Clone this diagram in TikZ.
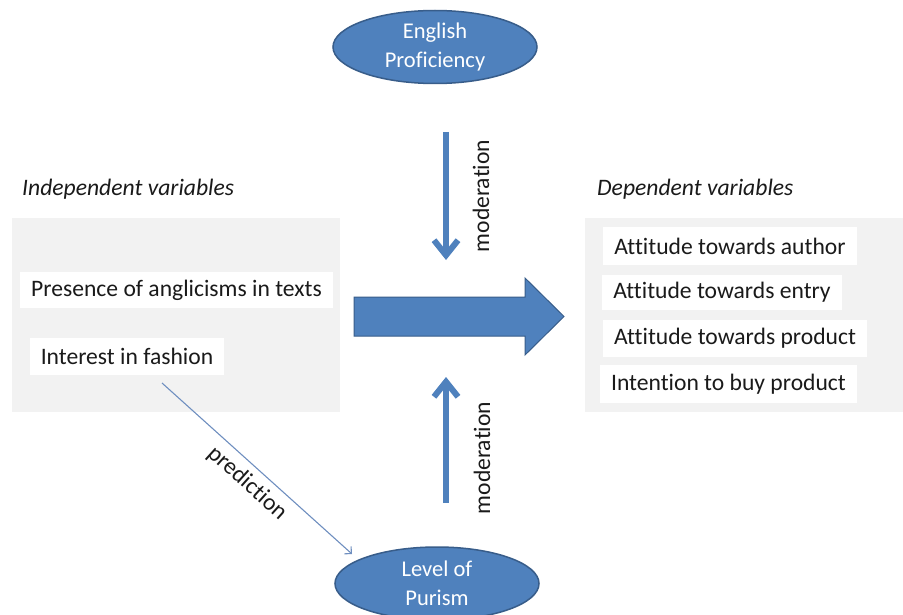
\documentclass[tikz,border=0pt]{standalone}
\usepackage{fontspec}
\setmainfont[Ligatures=NoCommon]{Carlito}
\usetikzlibrary{arrows.meta,shapes.geometric}
\definecolor{ppblue}{HTML}{4F81BD}
\definecolor{ppborder}{HTML}{385D8A}
\definecolor{ppgray}{HTML}{F2F2F2}
\definecolor{txtcol}{HTML}{1A1A1A}
\definecolor{predline}{HTML}{6F8FC0}
\begin{document}
\begin{tikzpicture}[x=1pt,y=-1pt,
  every node/.style={font=\fontsize{23.6}{28}\selectfont, text=txtcol},
  panel/.style={fill=ppgray, draw=none},
  varbox/.style={fill=white, inner sep=0pt, anchor=center},
  header/.style={anchor=west, inner sep=0pt, font=\fontsize{23.6}{28}\selectfont\itshape},
  oval/.style={ellipse, fill=ppblue, draw=ppborder, line width=1.5pt,
    minimum width=204pt, minimum height=73pt, inner sep=-10pt,
    text=white, align=center, font=\fontsize{22.5}{29}\selectfont},
  modarrow/.style={draw=ppblue, line width=6pt, -{Straight Barb[length=15pt,width=24pt]}},
  modlabel/.style={rotate=90, inner sep=0pt},
  predarrow/.style={draw=predline, line width=1.1pt, -{Straight Barb[length=5pt,width=10pt]}},
  bigarrow/.style={fill=ppblue, draw=ppborder, line width=1pt, line join=miter}
]
\clip (0,0) rectangle (903,615);
\fill[white] (0,0) rectangle (903,615);

% panels
\fill[panel] (12,218) rectangle (340,412);
\fill[panel] (585,218) rectangle (903,412);

% headers
\node[header] (indep) at (22,189) {Independent variables};
\node[header] (dep) at (597,189) {Dependent variables};

% left variables
\node[varbox, minimum width=313pt, minimum height=36pt] (presence) at (176.5,290) {Presence of anglicisms in texts};
\node[varbox, minimum width=194pt, minimum height=37pt] (interest) at (127,356.5) {Interest in fashion};

% right variables
\node[varbox, minimum width=254pt, minimum height=38pt] (author) at (730,246) {Attitude towards author};
\node[varbox, minimum width=240pt, minimum height=35pt] (entry) at (722,292.5) {Attitude towards entry};
\node[varbox, minimum width=264pt, minimum height=37pt] (product) at (735,338.5) {Attitude towards product};
\node[varbox, minimum width=257pt, minimum height=38pt] (intention) at (728.5,384) {Intention to buy product};

% ellipses
\node[oval] (english) at (435,47) {English\\Proficiency};
\node[oval] (purism) at (437,583.5) {Level of\\Purism};

% big arrow
\draw[bigarrow] (354,297) -- (525,297) -- (525,278) -- (564,316.5) -- (525,355) -- (525,336) -- (354,336) -- cycle;

% moderation arrows
\coordinate (m1s) at (446,132);
\coordinate (m1e) at (446,260);
\coordinate (m2s) at (446,503);
\coordinate (m2e) at (446,377);
\draw[modarrow] (m1s) -- (m1e);
\draw[modarrow] (m2s) -- (m2e);
\node[modlabel] (mod1) at (481,196) {moderation};
\node[modlabel] (mod2) at (482,458) {moderation};

% prediction
\coordinate (p1) at (162,383);
\coordinate (p2) at (352,554);
\draw[predarrow] (p1) -- node[pos=0.51, sloped, below=7pt, inner sep=0pt] (predlabel) {prediction} (p2);
\end{tikzpicture}
\end{document}
